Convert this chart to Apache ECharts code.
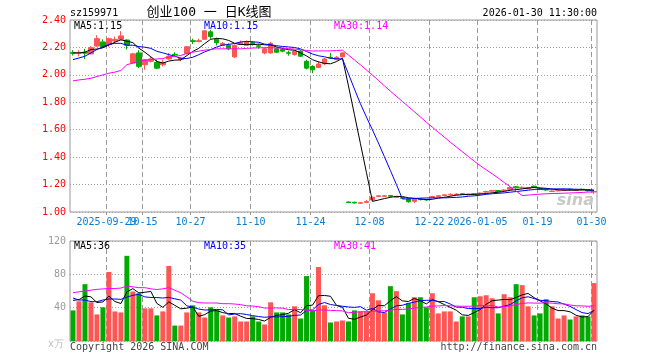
<!DOCTYPE html>
<html><head><meta charset="utf-8">
<script src="https://cdn.jsdelivr.net/npm/echarts@6/dist/echarts.min.js"></script>
<style>html,body{margin:0;padding:0;background:#fff}#c{width:660px;height:360px}</style>
</head><body><div id="c"></div>
<script>
// ---- data ----
const dates = ['2025-09-19','2025-09-22','2025-09-23','2025-09-24','2025-09-25','2025-09-26','2025-09-29','2025-09-30','2025-10-09','2025-10-10',
'2025-10-13','2025-10-14','2025-10-15','2025-10-16','2025-10-17','2025-10-20','2025-10-21','2025-10-22','2025-10-23','2025-10-24',
'2025-10-27','2025-10-28','2025-10-29','2025-10-30','2025-10-31','2025-11-03','2025-11-04','2025-11-05','2025-11-06','2025-11-07',
'2025-11-10','2025-11-11','2025-11-12','2025-11-13','2025-11-14','2025-11-17','2025-11-18','2025-11-19','2025-11-20','2025-11-21',
'2025-11-24','2025-11-25','2025-11-26','2025-11-27','2025-11-28','2025-12-01','2025-12-02','2025-12-03','2025-12-04','2025-12-05',
'2025-12-08','2025-12-09','2025-12-10','2025-12-11','2025-12-12','2025-12-15','2025-12-16','2025-12-17','2025-12-18','2025-12-19',
'2025-12-22','2025-12-23','2025-12-24','2025-12-25','2025-12-26','2025-12-29','2025-12-30','2025-12-31','2026-01-05','2026-01-06',
'2026-01-07','2026-01-08','2026-01-09','2026-01-12','2026-01-13','2026-01-14','2026-01-15','2026-01-16','2026-01-19','2026-01-20',
'2026-01-21','2026-01-22','2026-01-23','2026-01-26','2026-01-27','2026-01-28','2026-01-29','2026-01-30'];

const opens = [2.162,2.158,2.165,2.153,2.210,2.240,2.222,2.247,2.259,2.254,
2.086,2.160,2.074,2.099,2.091,2.074,2.116,2.150,2.111,2.156,
2.249,2.244,2.259,2.314,2.259,2.215,2.215,2.131,2.222,2.215,
2.235,2.212,2.160,2.160,2.190,2.185,2.162,2.148,2.173,2.099,
2.062,2.054,2.081,2.128,2.111,2.131,1.073,1.071,1.064,1.070,
1.088,1.113,1.114,1.120,1.106,1.105,1.095,1.078,1.095,1.092,
1.108,1.114,1.120,1.125,1.126,1.133,1.126,1.132,1.132,1.145,
1.152,1.156,1.157,1.165,1.184,1.176,1.170,1.188,1.172,1.164,
1.150,1.154,1.158,1.166,1.159,1.166,1.160,1.146];
const closes = [2.158,2.162,2.158,2.198,2.264,2.205,2.264,2.259,2.284,2.215,
2.153,2.062,2.111,2.116,2.049,2.091,2.136,2.146,2.123,2.205,
2.244,2.249,2.321,2.279,2.235,2.230,2.190,2.215,2.235,2.240,
2.222,2.208,2.190,2.230,2.165,2.173,2.158,2.173,2.136,2.049,
2.037,2.079,2.116,2.123,2.128,2.160,1.069,1.066,1.068,1.076,
1.108,1.118,1.118,1.115,1.112,1.100,1.075,1.098,1.090,1.088,
1.113,1.118,1.125,1.129,1.130,1.128,1.130,1.128,1.138,1.149,
1.156,1.148,1.160,1.178,1.176,1.180,1.178,1.180,1.164,1.160,
1.153,1.157,1.162,1.163,1.162,1.162,1.155,1.150];
const lows = [2.141,2.135,2.116,2.150,2.205,2.198,2.205,2.235,2.254,2.185,
2.081,2.049,2.037,2.091,2.042,2.062,2.111,2.136,2.100,2.148,
2.225,2.237,2.259,2.264,2.215,2.210,2.180,2.123,2.220,2.210,
2.215,2.190,2.150,2.155,2.160,2.165,2.140,2.140,2.130,2.040,
2.012,2.049,2.070,2.116,2.106,2.128,1.065,1.062,1.060,1.065,
1.085,1.108,1.110,1.108,1.102,1.095,1.068,1.065,1.085,1.083,
1.104,1.110,1.115,1.120,1.122,1.124,1.120,1.125,1.128,1.140,
1.148,1.144,1.152,1.160,1.170,1.172,1.166,1.175,1.160,1.155,
1.146,1.150,1.154,1.158,1.155,1.158,1.150,1.130];
const highs = [2.180,2.180,2.190,2.210,2.289,2.259,2.272,2.279,2.319,2.259,
2.160,2.180,2.116,2.131,2.111,2.111,2.160,2.165,2.130,2.210,
2.264,2.264,2.326,2.328,2.272,2.240,2.230,2.222,2.250,2.250,
2.245,2.225,2.200,2.240,2.200,2.195,2.175,2.180,2.180,2.110,
2.070,2.099,2.123,2.160,2.138,2.165,1.076,1.075,1.073,1.088,
1.112,1.122,1.123,1.125,1.116,1.110,1.100,1.100,1.100,1.095,
1.118,1.124,1.130,1.135,1.136,1.136,1.133,1.136,1.142,1.155,
1.162,1.160,1.166,1.182,1.188,1.186,1.182,1.192,1.176,1.168,
1.156,1.160,1.166,1.170,1.166,1.170,1.164,1.154];
const volumes = [36.7,47.6,68.2,46.4,31.9,40.4,82.8,35.5,34.3,102.2,
59.4,57.3,39.2,39.2,30.7,35.5,90.1,18.5,18.5,34.3,
42.8,34.3,28.2,40.4,36.7,30.7,28.2,29.5,23.4,23.4,
29.5,23.4,19.8,46.4,34.3,34.3,31.9,41.6,27.0,77.9,
36.7,88.8,42.8,22.2,23.4,24.6,23.4,36.7,35.5,35.5,
57.3,48.8,34.3,65.8,59.8,31.9,45.2,52.5,52.5,40.4,
57.3,33.1,35.5,35.5,23.4,29.5,29.5,52.5,53.7,54.9,
51.3,33.1,56.1,52.5,68.2,67.0,41.6,30.7,33.1,50.1,
41.6,27.0,30.7,25.8,29.5,30.7,29.5,69.5];

// moving-average values for the first days (history before the window)
const ma5Head = [2.160,2.160,2.165,2.185];
const ma10Head = [2.111,2.123,2.136,2.160,2.185,2.205,2.222,2.230,2.230];
const ma30Head = [1.956,1.963,1.968,1.975,1.988,2.000,2.012,2.020,2.032,2.074,2.086,2.099,2.106,2.111,2.116,2.119,2.131,2.136,2.141,2.156,2.165,2.173,2.180,2.185,2.190,2.190,2.190,2.190,2.190];
const vma5Head = [48.8,49.6,54,53];
const vma10Head = [51.6,49.2,49.2,47.2,47.2,49.2,50.4,50.4,50.0];
const vma30Head = [58,59,60,61,62,62.5,63,63,63.5,66,65,64,64,62.6,61.8,62.6,64,61,57.8,53,47.7,46,45.6,45.6,45.6,44.8,44.8,44.4,43.6];

const tickIdx = [6,12,20,30,40,50,60,68,78,87];
const tickLabels = ['2025-09-29','10-15','10-27','11-10','11-24','12-08','12-22','2026-01-05','01-19','01-30'];
const priceTicks = [1.00,1.20,1.40,1.60,1.80,2.00,2.20,2.40];
const volTicks = [0,40,80,120];

// ---- build ----
function ma(vals, n, head){
  return vals.map((v,i)=>{
    if(i < n-1) return head[i];
    let s=0; for(let k=i-n+1;k<=i;k++) s+=vals[k]; return +(s/n).toFixed(4);
  });
}
const RED='#ff5555', GREEN='#00aa00', VGRID='#999999', HGRID='#a0a0a0';
const MONO='"DejaVu Sans Mono","Liberation Mono",monospace';
const kData = dates.map((d,i)=>[opens[i],closes[i],lows[i],highs[i]]);
const volData = volumes.map((v,i)=>({value:v,itemStyle:{color: closes[i]>=opens[i]?RED:GREEN}}));

function xAxisCfg(gi){
  return {type:'category', gridIndex:gi, data:dates, boundaryGap:true,
    axisLine:{show:false}, axisTick:{show:false}, splitLine:{show:false}, axisLabel:{show:false}};
}
// vertical dashed grid lines (and date labels) at the left edge of each labelled day's band
function vgrid(xi, yi, ymin, ymax, ext, withLabel){
  return {type:'custom', xAxisIndex:xi, yAxisIndex:yi, data:tickIdx.map(i=>[i, ymin]), clip:false, z:1,
    renderItem:(params, api)=>{
      const i = api.value(0);
      const band = api.size([1,0])[0];
      const t = api.coord([i, ymax]); const b = api.coord([i, ymin]);
      const x = Math.round(t[0] - band/2) + 0.5;
      const kids = [{type:'line', shape:{x1:x, y1:t[1], x2:x, y2:b[1]+ext}, style:{stroke:VGRID, lineDash:[5,3], lineWidth:1}}];
      if(withLabel) kids.push({type:'text', x:x, y:b[1]+10, z2:10, style:{text:tickLabels[params.dataIndex], fill:'#0a7cd0', font:'10px '+MONO, align:'center', verticalAlign:'middle'}});
      return {type:'group', children:kids};
    }};
}
function line(name, data, color, xi, yi){
  return {name, type:'line', data, xAxisIndex:xi, yAxisIndex:yi, showSymbol:false, symbol:'none',
    lineStyle:{color, width:1}, itemStyle:{color}, z:5};
}
function txt(text,x,y,fill,align,font){
  return {type:'text', x, y, z:100, style:{text, fill, font: font||('10px '+MONO), align, textAlign:align, verticalAlign:'middle', textVerticalAlign:'middle'}};
}

const chart = echarts.init(document.getElementById('c'));
chart.setOption({
  animation:false,
  backgroundColor:'#fff',
  grid:[
    {left:70, top:20, width:527, height:192, show:true, borderColor:'#999', borderWidth:1},
    {left:70, top:241, width:527, height:100, show:true, borderColor:'#999', borderWidth:1}
  ],
  xAxis:[xAxisCfg(0), xAxisCfg(1)],
  yAxis:[
    {type:'value', gridIndex:0, min:priceTicks[0], max:priceTicks[priceTicks.length-1], interval:0.2,
      axisLine:{show:false}, axisTick:{show:false},
      axisLabel:{color:'#ff0000', fontFamily:MONO, fontSize:10, margin:4, formatter:(v)=>v.toFixed(2)},
      splitLine:{show:true, lineStyle:{color:HGRID, type:[1,2]}}},
    {type:'value', gridIndex:1, min:volTicks[0], max:volTicks[volTicks.length-1], interval:40,
      axisLine:{show:false}, axisTick:{show:false},
      axisLabel:{color:'#999', fontFamily:MONO, fontSize:10, margin:4, formatter:(v)=>v===0?'':String(v)},
      splitLine:{show:true, lineStyle:{color:HGRID, type:[1,2]}}}
  ],
  series:[
    vgrid(0,0,priceTicks[0],priceTicks[priceTicks.length-1],3,true),
    vgrid(1,1,volTicks[0],volTicks[volTicks.length-1],0,false),
    {type:'candlestick', data:kData, xAxisIndex:0, yAxisIndex:0, barWidth:5,
      itemStyle:{color:RED, color0:GREEN, borderColor:RED, borderColor0:GREEN, borderWidth:1}, z:3},
    line('MA5', ma(closes,5,ma5Head), '#000000',0,0),
    line('MA10', ma(closes,10,ma10Head), '#0000ff',0,0),
    line('MA30', ma(closes,30,ma30Head), '#ff00ff',0,0),
    {type:'bar', data:volData, xAxisIndex:1, yAxisIndex:1, barWidth:5, z:3},
    line('VMA5', ma(volumes,5,vma5Head), '#000000',1,1),
    line('VMA10', ma(volumes,10,vma10Head), '#0000ff',1,1),
    line('VMA30', ma(volumes,30,vma30Head), '#ff00ff',1,1)
  ],
  graphic:[
    txt('sz159971',70,13,'#000','left'),
    txt('创业100 一 日K线图',209,13,'#000','center','13px "DejaVu Sans Mono","Noto Sans CJK SC"'),
    txt('2026-01-30 11:30:00',597,13,'#000','right'),
    txt('MA5:1.15',74,26,'#000','left'),
    txt('MA10:1.15',204,26,'#0000ff','left'),
    txt('MA30:1.14',334,26,'#ff00ff','left'),
    txt('MA5:36',74,246,'#000','left'),
    txt('MA10:35',204,246,'#0000ff','left'),
    txt('MA30:41',334,246,'#ff00ff','left'),
    txt('x万',64,344,'#bbb','right'),
    txt('Copyright 2026 SINA.COM',70,347,'#444','left'),
    txt('http://finance.sina.com.cn',597,347,'#444','right'),
    txt('sina',594,201,'#c8c8c8','right','italic bold 16px "DejaVu Sans"')
  ]
});
</script></body></html>
